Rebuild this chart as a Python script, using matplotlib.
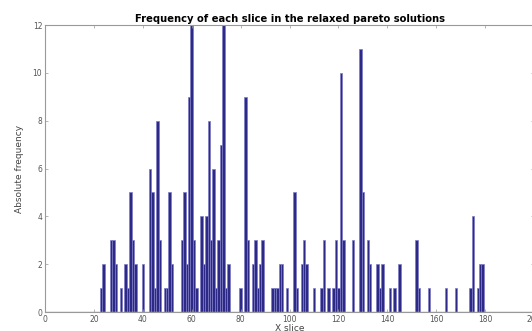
import matplotlib
matplotlib.use('Agg')
import matplotlib.pyplot as plt

# slice index -> how often it appears (bins with zero count left out)
slices = [23, 24, 27, 28, 29, 31, 33, 34, 35, 36, 37, 40, 43, 44, 45, 46, 47,
          49, 50, 51, 52, 56, 57, 58, 59, 60, 61, 62, 64, 65, 66, 67, 68, 69,
          70, 71, 72, 73, 74, 75, 80, 82, 83, 85, 86, 87, 88, 89, 93, 94, 95,
          96, 97, 99, 102, 103, 105, 106, 107, 110, 113, 114, 116, 118, 119,
          120, 121, 122, 126, 129, 130, 132, 133, 136, 137, 138, 141, 143, 145,
          152, 153, 157, 164, 168, 174, 175, 177, 178, 179]
counts = [1, 2, 3, 3, 2, 1, 2, 1, 5, 3, 2, 2, 6, 5, 1, 8, 3,
          1, 1, 5, 2, 3, 5, 2, 9, 12, 3, 1, 4, 2, 4, 8, 3, 6,
          1, 3, 7, 12, 1, 2, 1, 9, 3, 2, 3, 1, 2, 3, 1, 1, 1,
          2, 2, 1, 5, 1, 2, 3, 2, 1, 1, 3, 1, 1, 3,
          1, 10, 3, 3, 11, 5, 3, 2, 2, 1, 2, 1, 1, 2,
          3, 1, 1, 1, 1, 1, 4, 1, 2, 2]

xticks = list(range(0, 201, 20))
yticks = list(range(0, 13, 2))

fig = plt.figure(figsize=(5.32, 3.31), dpi=100)
ax = fig.add_axes([0.0846, 0.0574, 0.9192, 0.867])

ax.bar(slices, counts, width=1.0, color='#2c2a86', edgecolor='#7d7bc4',
       linewidth=0.5)
ax.axhline(0, color='#9c9ad6', linewidth=1.0, zorder=3)

ax.set_xlim(0, 200)
ax.set_ylim(0, 12)
ax.set_xticks(xticks)
ax.set_yticks(yticks)
ax.tick_params(direction='in', length=2.5, width=0.5, colors='#999999',
               labelcolor='#555555', labelsize=5.5, top=True, right=True,
               pad=2)
for s in ax.spines.values():
    s.set_color('#999999')
    s.set_linewidth(0.8)

ax.set_title('Frequency of each slice in the relaxed pareto solutions',
             fontsize=7.2, fontweight='bold', pad=2.5)
ax.set_xlabel('X slice', fontsize=6.5, color='#444444', labelpad=0)
ax.set_ylabel('Absolute frequency', fontsize=6.5, color='#444444',
              labelpad=6)

fig.savefig('out.png', dpi=100)
